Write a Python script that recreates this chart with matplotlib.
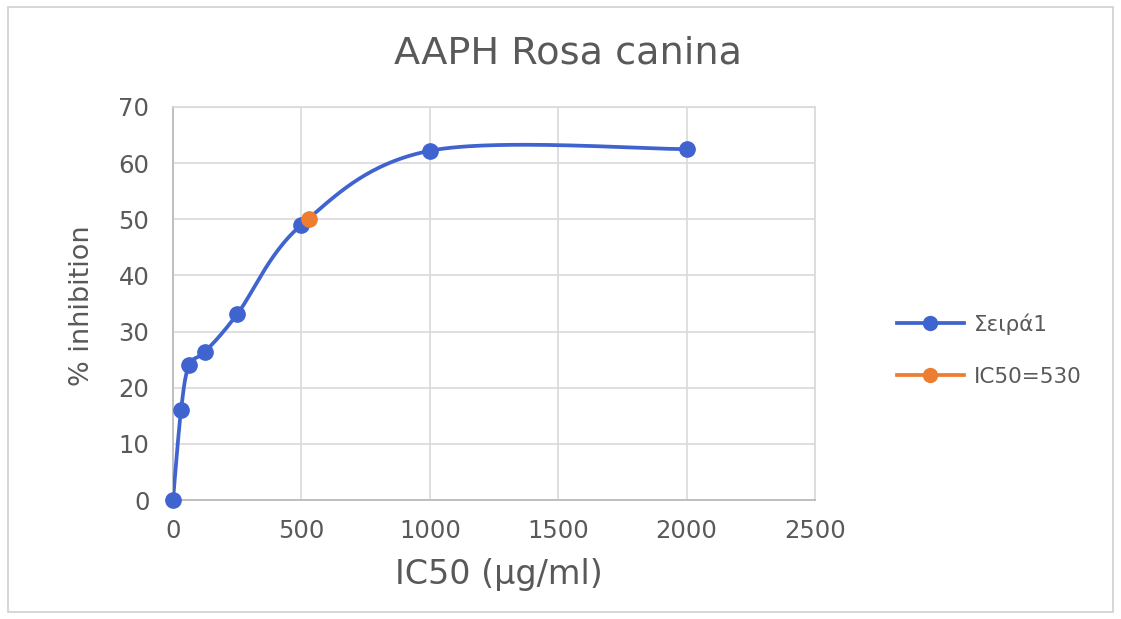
import numpy as np
import matplotlib
matplotlib.use("Agg")
import matplotlib.pyplot as plt
from matplotlib.lines import Line2D
from matplotlib.patches import Rectangle

# Dose-response data: concentration (µg/ml) vs % inhibition
concentration = [0, 31.25, 62.5, 125, 250, 500, 1000, 2000]
inhibition = [0, 16.0, 24.0, 26.4, 33.1, 49.0, 62.2, 62.5]

# IC50 point
ic50_x = [530]
ic50_y = [50]

title = "AAPH Rosa canina"
series_label = "Σειρά1"
ic50_label = "IC50=530"
x_label = "IC50 (µg/ml)"
y_label = "% inhibition"
x_ticks = [0, 500, 1000, 1500, 2000, 2500]
y_ticks = [0, 10, 20, 30, 40, 50, 60, 70]

BLUE = "#3F63CF"
ORANGE = "#ED7D31"
TEXT = "#595959"
GRID = "#d9d9d9"

W, H = 1121, 619
plt.rcParams["font.family"] = ["DejaVu Sans"]

fig = plt.figure(figsize=(W / 100, H / 100), dpi=100)
ax_left, ax_right, ax_top, ax_bottom = 173, 815, 107, 500
ax = fig.add_axes([ax_left / W, 1 - ax_bottom / H,
                   (ax_right - ax_left) / W, (ax_bottom - ax_top) / H])
ax.set_xlim(x_ticks[0], x_ticks[-1])
ax.set_ylim(y_ticks[0], y_ticks[-1])


def smooth_curve(xs, ys, sx, sy, n=60):
    """Spreadsheet-style smoothed line: cubic Bezier segments whose control
    points follow the neighbouring points (computed in screen proportions)."""
    p = np.column_stack([np.asarray(xs, float) * sx, np.asarray(ys, float) * sy])
    ext = np.vstack([p[0], p, p[-1]])
    t = np.linspace(0, 1, n)[:, None]
    segs = []
    for i in range(len(p) - 1):
        p0, p1, p2, p3 = ext[i], ext[i + 1], ext[i + 2], ext[i + 3]
        c1 = p1 + (p2 - p0) / 6
        c2 = p2 - (p3 - p1) / 6
        seg = ((1 - t) ** 3) * p1 + 3 * ((1 - t) ** 2) * t * c1 \
            + 3 * (1 - t) * (t ** 2) * c2 + (t ** 3) * p2
        segs.append(seg if i == 0 else seg[1:])
    out = np.vstack(segs)
    return out[:, 0] / sx, out[:, 1] / sy


sx = (ax_right - ax_left) / (x_ticks[-1] - x_ticks[0])
sy = (ax_bottom - ax_top) / (y_ticks[-1] - y_ticks[0])
cx, cy = smooth_curve(concentration, inhibition, sx, sy)

ax.plot(cx, cy, color=BLUE, lw=2.7, solid_capstyle="round", zorder=3)
ax.plot(concentration, inhibition, "o", color=BLUE, ms=11, zorder=4,
        clip_on=False)
ax.plot(ic50_x, ic50_y, "o", color=ORANGE, ms=11, zorder=5, clip_on=False)

# Axes styling
ax.set_xticks(x_ticks)
ax.set_yticks(y_ticks)
ax.grid(True, color=GRID, lw=1.2)
ax.set_axisbelow(True)
for side in ("top", "right"):
    ax.spines[side].set_color(GRID)
    ax.spines[side].set_linewidth(1.2)
for side in ("left", "bottom"):
    ax.spines[side].set_color("#bfbfbf")
    ax.spines[side].set_linewidth(1.4)
ax.tick_params(axis="both", length=0, labelsize=17.5, labelcolor=TEXT)
ax.tick_params(axis="y", pad=17)
ax.tick_params(axis="x", pad=14)

ax.set_xlabel(x_label, fontsize=24, color=TEXT, va="baseline")
ax.xaxis.set_label_coords((499 - ax_left) / (ax_right - ax_left),
                          (ax_bottom - 584) / (ax_bottom - ax_top))
ax.set_ylabel(y_label, fontsize=19.5, color=TEXT, va="center")
ax.yaxis.set_label_coords((82 - ax_left) / (ax_right - ax_left),
                          (ax_bottom - 306) / (ax_bottom - ax_top))

fig.text(567.5 / W, 1 - 64 / H, title, fontsize=27.5, color=TEXT,
         ha="center", va="baseline")

handles = [
    Line2D([], [], color=BLUE, lw=2.7, marker="o", ms=10),
    Line2D([], [], color=ORANGE, lw=2.7, marker="o", ms=10),
]
fig.legend(handles, [series_label, ic50_label], loc="center left",
           bbox_to_anchor=(897 / W, 1 - 350 / H), frameon=False,
           fontsize=15.5, labelcolor=TEXT, handlelength=3.1,
           handletextpad=0.45, labelspacing=1.5, borderpad=0,
           borderaxespad=0)

# Chart-area border
fig.add_artist(Rectangle((8 / W, 1 - 612 / H), (1113 - 8) / W, (612 - 7) / H,
                         transform=fig.transFigure, fill=False,
                         edgecolor="#d0d0d0", lw=1.2))

fig.savefig("out.png", dpi=100)
